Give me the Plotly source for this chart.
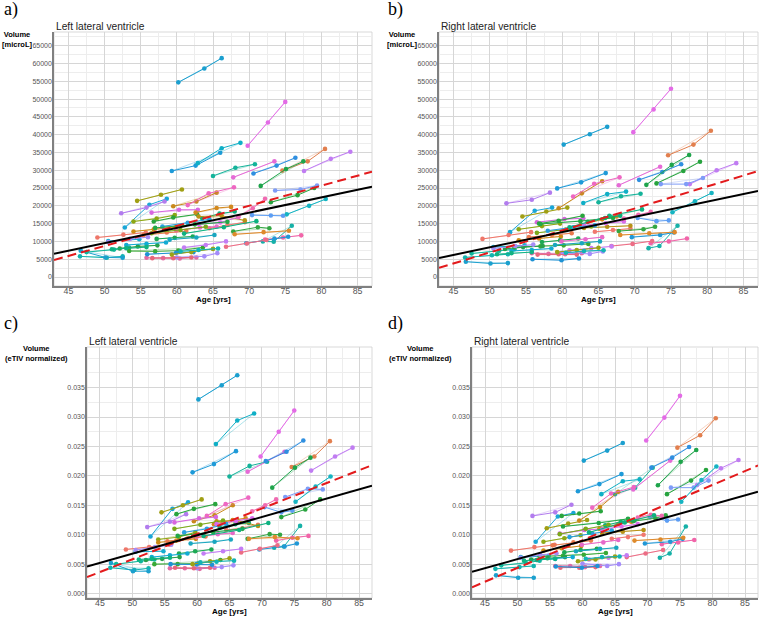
import plotly.graph_objects as go

# ---------------- data ----------------
subject_ages = [
    [60.2, 63.8, 66.2], [69.8, 72.6, 75.0], [74.6, 78.1, 80.5], [59.3, 62.6, 66.0],
    [62.9, 66.2, 68.8], [65.0, 68.1, 70.8], [67.8, 73.5], [70.6, 73.8, 76.4],
    [71.6, 75.1, 77.5], [73.0, 76.7, 79.0], [77.6, 81.3, 84.0], [73.6, 77.1, 79.4],
    [75.2, 78.3, 80.6], [70.4, 73.0, 74.7], [52.8, 56.2, 58.6], [52.3, 55.8, 58.3],
    [54.5, 57.8, 60.7], [59.5, 62.7, 65.5], [61.5, 64.4, 67.9], [49.0, 52.6, 55.7],
    [50.5, 54.8], [46.6, 50.3, 52.5], [46.7, 50.1, 52.5], [47.5, 51.3, 53.4],
    [53.4, 57.0, 60.2, 63.6], [55.8, 58.1, 60.4, 62.7], [60.0, 63.8, 65.6], [56.6, 59.5, 62.0],
    [55.9, 59.9, 62.3], [56.5, 60.3, 62.9], [54.0, 57.2, 59.7], [56.8, 59.5, 62.8],
    [62.6, 65.5, 67.5], [63.5, 65.9, 68.0], [64.5, 67.0, 69.4], [63.0, 66.2, 69.4],
    [67.8, 71.2, 72.8], [71.9, 73.4, 75.9], [72.2, 74.7, 77.2], [69.6, 73.5, 75.4],
    [68.0, 72.0, 75.5], [66.8, 69.7, 72.4], [61.0, 64.0, 66.8], [59.3, 62.0, 65.0],
    [60.5, 63.0, 65.7], [52.1, 54.6, 57.3], [54.0, 56.8, 59.8], [57.2, 59.7, 62.2],
    [59.9, 63.2, 65.5], [59.0, 62.7, 65.2], [50.5, 53.5, 56.0], [55.4, 58.6, 61.3],
    [53.0, 55.8, 58.5], [51.0, 53.0, 55.8], [56.5, 60.5, 64.0], [63.0, 66.0, 68.5],
    [68.5, 70.5, 72.2], [58.0, 61.5, 64.5], [57.0, 62.5, 67.0], [61.0, 66.5, 71.0],
]

left_volume = [
    [54700, 58600, 61500], [36900, 43400, 49200], [29900, 32500, 36000], [29800, 31300, 34900],
    [32000, 36200, 37700], [28400, 30700, 31700], [28000, 32500], [29100, 31300, 33500],
    [25600, 30350, 32500], [21000, 23000, 25000], [29800, 33200, 35200], [24300, 24600, 25700],
    [17600, 20000, 21900], [17400, 17300, 17200], [13900, 20300, 22000], [17900, 19500, 21200],
    [21400, 23100, 24600], [19900, 21200, 23700], [20200, 23500, 25200], [11100, 11900, 12500],
    [10100, 10600], [5800, 5400, 5800], [7400, 5500, 5400], [7000, 7700, 8300],
    [7300, 7200, 7400, 8300], [5400, 5300, 5200, 5500], [5500, 5800, 6700], [5300, 5300, 5500],
    [6400, 6800, 7000], [18100, 18900, 18900], [15600, 16400, 17400], [15600, 16700, 17600],
    [18100, 19400, 19700], [16500, 17800, 18400], [13700, 14600, 15400], [17000, 17200, 15900],
    [12800, 14000, 13700], [10000, 9900, 14400], [10500, 11100, 11700], [9500, 10800, 11300],
    [12000, 12600, 13000], [8500, 9400, 10400], [8300, 9000, 10000], [6300, 7000, 7900],
    [7200, 7600, 8000], [8000, 8600, 8900], [12800, 13400, 14000], [10700, 11000, 11400],
    [13100, 13900, 14200], [10500, 11100, 11800], [9800, 10700, 11200], [11800, 12500, 12900],
    [9000, 9300, 9700], [7800, 8100, 8400], [12300, 13200, 14100], [14800, 15300, 16800],
    [17000, 19300, 22000], [14200, 15200, 16200], [13800, 14800, 15500], [12200, 14000, 15700],
]

right_volume = [
    [37200, 40100, 42200], [40700, 47100, 52900], [34200, 37200, 41100], [24900, 26600, 29200],
    [20800, 23300, 24000], [21000, 22700, 23400], [25800, 31000], [27300, 29500, 31700],
    [25900, 31500, 34300], [26300, 29800, 32400], [26100, 30000, 32000], [26100, 26100, 27800],
    [18200, 21300, 23600], [16600, 15700, 15900], [12600, 18600, 19500], [20700, 21700, 23700],
    [17000, 18400, 19500], [19300, 23500, 26900], [22600, 26200, 28000], [10700, 11800, 12600],
    [8400, 8900], [5500, 6100, 6400], [4300, 3800, 3900], [6600, 7400, 7800],
    [8400, 8600, 8900, 9300], [6700, 6500, 6400, 6700], [6800, 6500, 7200], [6300, 6400, 6300],
    [5000, 4700, 5200], [15400, 16300, 16500], [13400, 14300, 15000], [15000, 15800, 17200],
    [14700, 16200, 17000], [15500, 16600, 17200], [12700, 13200, 13600], [13800, 14100, 14400],
    [12900, 13400, 14100], [8100, 8700, 14400], [9500, 10000, 10800], [11200, 11800, 12500],
    [11800, 12300, 12600], [8700, 9300, 10100], [7500, 8100, 8600], [7000, 7600, 8200],
    [6800, 7300, 7500], [7900, 8400, 8700], [10300, 10800, 11400], [9800, 10300, 10800],
    [10000, 10600, 11200], [9000, 9500, 10000], [8000, 8700, 9100], [11200, 11800, 12300],
    [7300, 7600, 8000], [6400, 6700, 7000], [12400, 13300, 14200], [14500, 15100, 15600],
    [16400, 17500, 18300], [13000, 14000, 14500], [14900, 15700, 16600], [14000, 17200, 19000],
]

left_normalized = [
    [0.0330, 0.0354, 0.0371], [0.0233, 0.0275, 0.0311], [0.0215, 0.0233, 0.0259], [0.0206, 0.0220, 0.0242],
    [0.0254, 0.0294, 0.0306], [0.0199, 0.0217, 0.0224], [0.0207, 0.0241], [0.0225, 0.0241, 0.0260],
    [0.0180, 0.0214, 0.0231], [0.0130, 0.0143, 0.0160], [0.0209, 0.0233, 0.0248], [0.0164, 0.0178, 0.0177],
    [0.0156, 0.0182, 0.0199], [0.0147, 0.0138, 0.0141], [0.0097, 0.0144, 0.0155], [0.0113, 0.0122, 0.0135],
    [0.0138, 0.0150, 0.0160], [0.0123, 0.0133, 0.0150], [0.0132, 0.0152, 0.0163], [0.0075, 0.0079, 0.0083],
    [0.0071, 0.0072], [0.0044, 0.0040, 0.0043], [0.0052, 0.0038, 0.0038], [0.0050, 0.0055, 0.0058],
    [0.0050, 0.0050, 0.0051, 0.0057], [0.0043, 0.0043, 0.0042, 0.0044], [0.0043, 0.0045, 0.0048], [0.0044, 0.0043, 0.0044],
    [0.0050, 0.0050, 0.0049], [0.0121, 0.0128, 0.0130], [0.0092, 0.0096, 0.0104], [0.0135, 0.0144, 0.0152],
    [0.0118, 0.0125, 0.0128], [0.0112, 0.0118, 0.0120], [0.0108, 0.0111, 0.0117], [0.0123, 0.0124, 0.0115],
    [0.0093, 0.0101, 0.0100], [0.0078, 0.0080, 0.0115], [0.0090, 0.0095, 0.0098], [0.0075, 0.0080, 0.0085],
    [0.0093, 0.0096, 0.0094], [0.0070, 0.0076, 0.0082], [0.0068, 0.0072, 0.0076], [0.0050, 0.0055, 0.0060],
    [0.0053, 0.0054, 0.0056], [0.0057, 0.0059, 0.0062], [0.0087, 0.0090, 0.0093], [0.0068, 0.0072, 0.0075],
    [0.0096, 0.0101, 0.0103], [0.0085, 0.0088, 0.0092], [0.0074, 0.0079, 0.0083], [0.0089, 0.0094, 0.0097],
    [0.0062, 0.0065, 0.0068], [0.0058, 0.0059, 0.0061], [0.0110, 0.0117, 0.0124], [0.0118, 0.0123, 0.0128],
    [0.0140, 0.0150, 0.0160], [0.0104, 0.0110, 0.0118], [0.0098, 0.0104, 0.0110], [0.0098, 0.0108, 0.0120],
]

right_normalized = [
    [0.0226, 0.0243, 0.0256], [0.0260, 0.0299, 0.0336], [0.0248, 0.0269, 0.0298], [0.0174, 0.0186, 0.0203],
    [0.0169, 0.0191, 0.0194], [0.0169, 0.0180, 0.0214], [0.0177, 0.0226], [0.0214, 0.0231, 0.0249],
    [0.0184, 0.0224, 0.0244], [0.0169, 0.0192, 0.0210], [0.0184, 0.0213, 0.0227], [0.0180, 0.0180, 0.0192],
    [0.0156, 0.0193, 0.0216], [0.0130, 0.0124, 0.0126], [0.0088, 0.0131, 0.0137], [0.0132, 0.0138, 0.0151],
    [0.0111, 0.0119, 0.0125], [0.0124, 0.0147, 0.0173], [0.0146, 0.0170, 0.0181], [0.0073, 0.0079, 0.0083],
    [0.0062, 0.0064], [0.0042, 0.0045, 0.0047], [0.0031, 0.0027, 0.0027], [0.0048, 0.0052, 0.0056],
    [0.0063, 0.0064, 0.0066, 0.0069], [0.0047, 0.0047, 0.0045, 0.0047], [0.0051, 0.0047, 0.0050], [0.0044, 0.0044, 0.0045],
    [0.0046, 0.0044, 0.0047], [0.0102, 0.0108, 0.0110], [0.0088, 0.0094, 0.0099], [0.0132, 0.0136, 0.0140],
    [0.0110, 0.0118, 0.0122], [0.0116, 0.0122, 0.0124], [0.0093, 0.0096, 0.0100], [0.0103, 0.0105, 0.0108],
    [0.0123, 0.0128, 0.0133], [0.0061, 0.0068, 0.0114], [0.0084, 0.0087, 0.0091], [0.0085, 0.0088, 0.0093],
    [0.0090, 0.0092, 0.0095], [0.0062, 0.0068, 0.0074], [0.0058, 0.0061, 0.0065], [0.0055, 0.0058, 0.0063],
    [0.0059, 0.0062, 0.0063], [0.0058, 0.0060, 0.0062], [0.0073, 0.0077, 0.0081], [0.0070, 0.0074, 0.0076],
    [0.0083, 0.0087, 0.0091], [0.0072, 0.0076, 0.0078], [0.0061, 0.0066, 0.0068], [0.0082, 0.0087, 0.0090],
    [0.0057, 0.0059, 0.0062], [0.0056, 0.0057, 0.0059], [0.0101, 0.0110, 0.0117], [0.0109, 0.0114, 0.0118],
    [0.0129, 0.0134, 0.0132], [0.0096, 0.0102, 0.0107], [0.0114, 0.0120, 0.0127], [0.0104, 0.0121, 0.0133],
]

# population fits (intercept, slope per year): solid black = model, dashed red = reference
model_intercept = [-11947, -13043, -0.008816, -0.009587]
model_slope = [429, 427.5, 0.000312, 0.000309]
reference_intercept = [-19472, -24004, -0.015776, -0.01913]
reference_slope = [564, 618, 0.000432, 0.00047]

# tick labels
x_ticks = [45, 50, 55, 60, 65, 70, 75, 80, 85]
y_ticks_volume = [0, 5000, 10000, 15000, 20000, 25000, 30000, 35000, 40000,
                  45000, 50000, 55000, 60000, 65000]
y_ticks_normalized = [0.000, 0.005, 0.010, 0.015, 0.020, 0.025, 0.030, 0.035]

panel_letters = ["a)", "b)", "c)", "d)"]
panel_titles = ["Left lateral ventricle", "Right lateral ventricle",
                "Left lateral ventricle", "Right lateral ventricle"]
y_titles = ["<b>Volume</b><br><b>[microL]</b>", "<b>Volume</b><br><b>[microL]</b>",
            "<b>Volume</b><br><b>(eTIV normalized)</b>", "<b>Volume</b><br><b>(eTIV normalized)</b>"]
x_title = "<b>Age [yrs]</b>"

# ---------------- styles ----------------
subject_colors = [
    "#1B9FCF", "#E36BE6", "#E27F4E", "#1E9AD8", "#0FAFC6", "#14B39A", "#E56BD6", "#2F8FE0",
    "#1EA44B", "#27A33E", "#C07CF2", "#7E9CF7", "#16B4C2", "#5C9DF3", "#1AA6D6", "#B27CEE",
    "#A09F14", "#C8891C", "#EE67C2", "#EE7669", "#16ADD0", "#12B4AE", "#1BA0CE", "#10B79B",
    "#39A936", "#E26AA2", "#A48BFA", "#E6677B", "#1E92D4", "#D767DF", "#8DA714", "#29A53D",
    "#D2881D", "#0EAF7B", "#F0786F", "#B89216", "#33A643", "#16B1A7", "#F165A9", "#2198D6",
    "#DE8A2C", "#EC6D85", "#C37DF4", "#9CA214", "#13B4B4", "#28A04B", "#CE8A16", "#1EA955",
    "#E669C9", "#19A6BF", "#A58CF6", "#EA7A4E", "#12ABD3", "#10B283", "#7CA91A", "#D96CEA",
    "#F06AB1", "#2AA0DE", "#22A746", "#0DB180",
]

W, H = 760, 617
# plot rectangles in pixels: left, top, right, bottom
rects = [(54, 32, 372, 286), (439, 32, 758, 286), (87, 347, 372, 598), (472, 347, 758, 598)]
x_range = [43.0, 87.0]
y_ranges = [[-2530, 68850], [-2530, 68850], [-0.00075, 0.0419], [-0.00075, 0.0419]]
panel_values = [left_volume, right_volume, left_normalized, right_normalized]

FONT = "Liberation Sans, Arial, sans-serif"
fig = go.Figure()
annotations = []
shapes = []

for p in range(4):
    xa = "x" if p == 0 else f"x{p+1}"
    ya = "y" if p == 0 else f"y{p+1}"
    vals = panel_values[p]
    for s, ages in enumerate(subject_ages):
        col = subject_colors[s]
        v = vals[s]
        # thin individual trend (first to last visit)
        fig.add_trace(go.Scatter(x=[ages[0], ages[-1]], y=[v[0], v[-1]], mode="lines",
                                 line=dict(color=col, width=0.6), opacity=0.55,
                                 xaxis=xa, yaxis=ya, hoverinfo="skip", showlegend=False))
        fig.add_trace(go.Scatter(x=ages, y=v, mode="lines+markers",
                                 line=dict(color=col, width=1.0),
                                 marker=dict(color=col, size=4.6),
                                 xaxis=xa, yaxis=ya, showlegend=False))
    xs = x_range
    fig.add_trace(go.Scatter(x=xs, y=[reference_intercept[p] + reference_slope[p] * a for a in xs],
                             mode="lines", line=dict(color="#E31A1C", width=2, dash="9px,5px"),
                             xaxis=xa, yaxis=ya, showlegend=False))
    fig.add_trace(go.Scatter(x=xs, y=[model_intercept[p] + model_slope[p] * a for a in xs],
                             mode="lines", line=dict(color="black", width=2),
                             xaxis=xa, yaxis=ya, showlegend=False))

    l, t, r, b = rects[p]
    is_norm = p >= 2
    yt = y_ticks_normalized if is_norm else y_ticks_volume
    xaxis = dict(domain=[l / W, r / W], range=x_range, anchor=ya,
                 tickmode="array", tickvals=x_ticks, ticktext=[str(v) for v in x_ticks],
                 showgrid=True, gridcolor="#D6D6D6", gridwidth=0.8,
                 minor=dict(tick0=42.5, dtick=2.5, showgrid=True, gridcolor="#EDEDED", gridwidth=0.6),
                 showline=True, linecolor="#808080", linewidth=1.5,
                 ticks="", ticklabelstandoff=-4,
                 tickfont=dict(family=FONT, size=8.8, color="#555555"),
                 zeroline=False, fixedrange=True, automargin=False)
    yaxis = dict(domain=[1 - b / H, 1 - t / H], range=y_ranges[p], anchor=xa,
                 tickmode="array", tickvals=yt,
                 ticktext=[f"{v:.3f}" for v in yt] if is_norm else [str(v) for v in yt],
                 showgrid=True, gridcolor="#D6D6D6", gridwidth=0.8,
                 minor=dict(tick0=0, dtick=0.0025 if is_norm else 2500, showgrid=True,
                            gridcolor="#EDEDED", gridwidth=0.6),
                 showline=True, linecolor="#808080", linewidth=1.5,
                 ticks="", ticklabelstandoff=-1,
                 tickfont=dict(family=FONT, size=7, color="#555555"),
                 zeroline=False, fixedrange=True, automargin=False)
    fig.update_layout(**{("xaxis" if p == 0 else f"xaxis{p+1}"): xaxis,
                         ("yaxis" if p == 0 else f"yaxis{p+1}"): yaxis})

    # light panel border
    shapes.append(dict(type="rect", xref="paper", yref="paper",
                       x0=l / W, x1=r / W, y0=1 - b / H, y1=1 - t / H,
                       line=dict(color="#CFCFCF", width=0.8), layer="below"))
    # panel letter
    annotations.append(dict(text=panel_letters[p], x=(2 if p % 2 == 0 else 386) / W,
                            y=1 - (10 if p < 2 else 323) / H, xref="paper", yref="paper",
                            xanchor="left", yanchor="middle", showarrow=False,
                            font=dict(family="Liberation Serif, DejaVu Serif, serif", size=18, color="black")))
    # panel title
    annotations.append(dict(text=panel_titles[p], x=l / W, y=1 - (t - 5.5) / H,
                            xref="paper", yref="paper", xanchor="left", yanchor="middle",
                            showarrow=False, font=dict(family=FONT, size=10.2, color="#222222")))
    # y title
    if is_norm:
        cx = 36 if p == 2 else 420
        annotations.append(dict(text=y_titles[p], x=cx / W, y=1 - 353.5 / H, xref="paper", yref="paper",
                                xanchor="center", yanchor="middle", align="center", showarrow=False,
                                font=dict(family=FONT, size=7.5, color="black")))
    else:
        lx = 0 if p == 0 else 385
        annotations.append(dict(text=y_titles[p], x=lx / W, y=1 - 39.5 / H, xref="paper", yref="paper",
                                xanchor="left", yanchor="middle", align="center", showarrow=False,
                                font=dict(family=FONT, size=7.5, color="black")))
    # x title
    annotations.append(dict(text=x_title, x=(l + r) / 2 / W, y=1 - (b + 13.5) / H,
                            xref="paper", yref="paper", xanchor="center", yanchor="middle",
                            showarrow=False, font=dict(family=FONT, size=8, color="black")))

fig.update_layout(width=W, height=H, margin=dict(l=0, r=0, t=0, b=0, pad=0),
                  paper_bgcolor="white", plot_bgcolor="white",
                  annotations=annotations, shapes=shapes, showlegend=False,
                  font=dict(family=FONT))

fig.write_html("out.html", config={"displayModeBar": False},
               post_script="document.body.style.margin='0';document.body.style.overflow='hidden';")
